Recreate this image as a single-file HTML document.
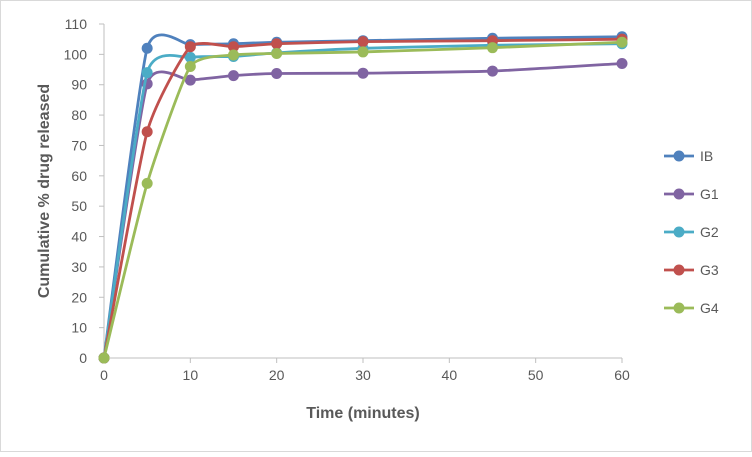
<!DOCTYPE html>
<html><head><meta charset="utf-8"><style>
body{margin:0;background:#fff}
svg{font-family:"Liberation Sans",sans-serif}
</style></head><body>
<svg id="c" width="752" height="452">
<rect x="0.5" y="0.5" width="751" height="451" fill="#fff" stroke="#d9d9d9"/>
</svg>
<script>
const times=[0,5,10,15,20,30,45,60];
const seriesNames=["IB","G1","G2","G3","G4"];
const ib=[0,102,103.2,103.5,104,104.5,105.3,105.8];
const g1=[0,90.3,91.5,93,93.7,93.8,94.5,97];
const g2=[0,94,99,99.3,100.5,102,103,103.5];
const g3=[0,74.5,102.5,102.5,103.5,104.2,104.5,105];
const g4=[0,57.5,96,99.8,100.3,100.8,102.2,104];
const xTicks=[0,10,20,30,40,50,60];
const yTicks=[0,10,20,30,40,50,60,70,80,90,100,110];
const colors=["#4f81bd","#8064a2","#4bacc6","#c0504d","#9bbb59"];
const data=[ib,g1,g2,g3,g4];
const NS="http://www.w3.org/2000/svg",svg=document.getElementById('c');
const X=v=>104+v*(622-104)/60, Y=v=>358-v*(358-24)/110;
function el(t,a,p){const e=document.createElementNS(NS,t);for(const k in a)e.setAttribute(k,a[k]);(p||svg).appendChild(e);return e;}
let ax=el('line',{x1:104,y1:24,x2:104,y2:358,stroke:'#bfbfbf'});


let bx=el('line',{x1:104,y1:358,x2:622,y2:358,stroke:'#bfbfbf'});


yTicks.forEach(t=>{let e=el('text',{x:87,y:Y(t)+5,'text-anchor':'end','font-size':14,fill:'#595959'});e.textContent=t;


el('line',{x1:99,x2:104,y1:Y(t),y2:Y(t),stroke:'#bfbfbf'});});
xTicks.forEach(t=>{let e=el('text',{x:X(t),y:380,'text-anchor':'middle','font-size':14,fill:'#595959'});e.textContent=t;


el('line',{x1:X(t),x2:X(t),y1:358,y2:363,stroke:'#bfbfbf'});});
let xt=el('text',{x:363,y:418,'text-anchor':'middle','font-size':16,'font-weight':'bold',fill:'#595959'});xt.textContent='Time (minutes)';


let yt=el('text',{x:0,y:0,transform:'translate(49,191) rotate(-90)','text-anchor':'middle','font-size':16,'font-weight':'bold',fill:'#595959'});yt.textContent='Cumulative % drug released';


function path(pts){let d=`M${pts[0][0]},${pts[0][1]}`;const t=0.09;
for(let i=0;i<pts.length-1;i++){const p0=pts[Math.max(0,i-1)],p1=pts[i],p2=pts[i+1],p3=pts[Math.min(pts.length-1,i+2)];
d+=` C${p1[0]+(p2[0]-p0[0])*t},${p1[1]+(p2[1]-p0[1])*t} ${p2[0]-(p3[0]-p1[0])*t},${p2[1]-(p3[1]-p1[1])*t} ${p2[0]},${p2[1]}`;}return d;}
data.forEach((s,i)=>{const g=el('g',{});


const pts=s.map((v,j)=>[X(times[j]),Y(v)]);
el('path',{d:path(pts),fill:'none',stroke:colors[i],'stroke-width':2.8},g);
pts.forEach(p=>{const c=el('circle',{cx:p[0],cy:p[1],r:5.5,fill:colors[i]},g);

});
const ly=156+i*38;const lg=el('g',{});


el('line',{x1:664,x2:694,y1:ly,y2:ly,stroke:colors[i],'stroke-width':2.8},lg);
el('circle',{cx:679,cy:ly,r:5.5,fill:colors[i]},lg);
const tx=el('text',{x:700,y:ly+5,'font-size':14,fill:'#595959'},lg);tx.textContent=seriesNames[i];});
</script>
</body></html>
